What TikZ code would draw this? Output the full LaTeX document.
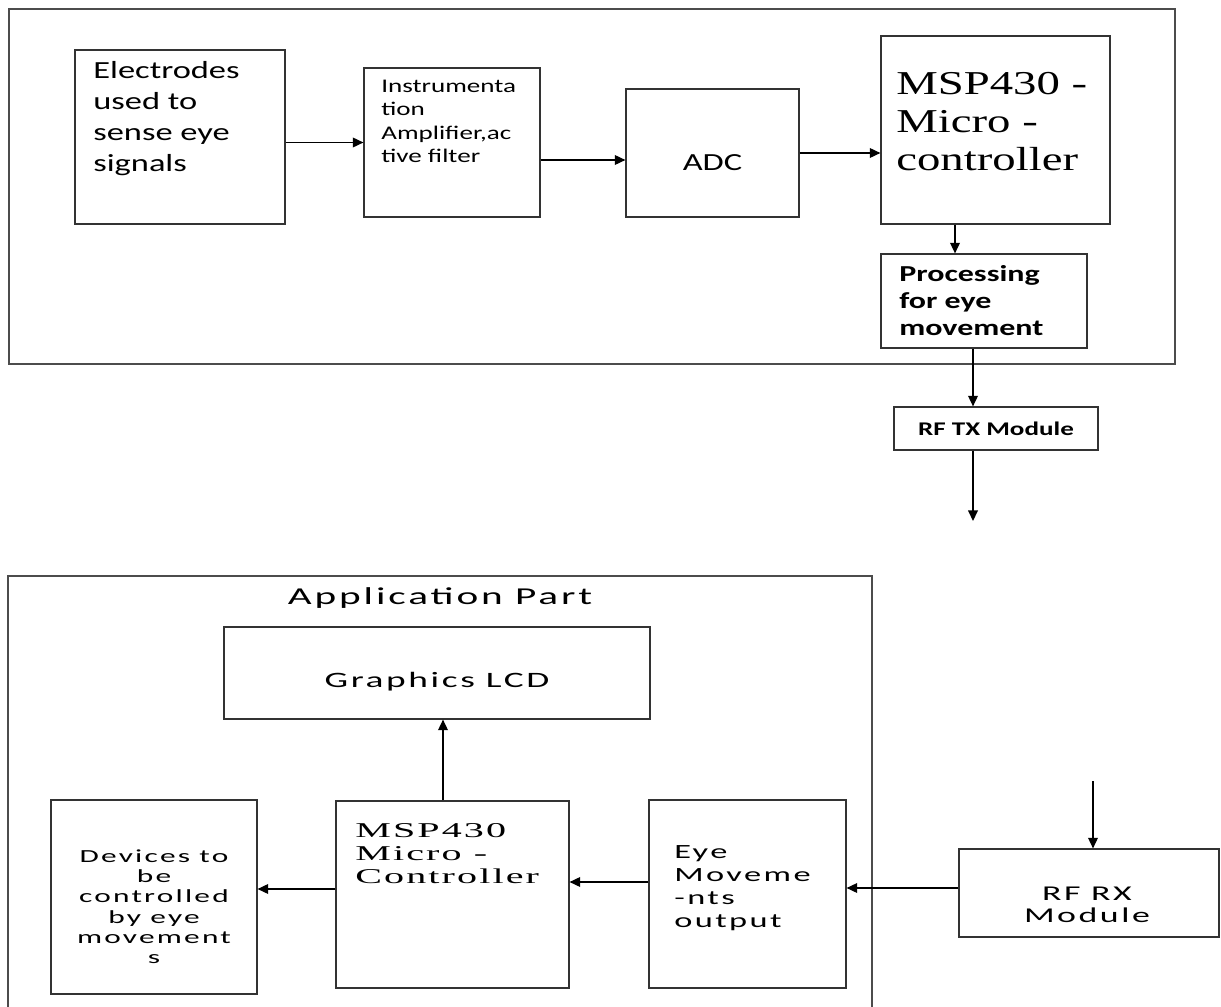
\documentclass[tikz,border=0pt]{standalone}
\usepackage{fontspec}
\usetikzlibrary{positioning,arrows.meta}

% fonts: the picture is stretched sideways, the lower half more so
\newfontfamily\topsans[FakeStretch=1.4]{Carlito}
\newfontfamily\topserif[FakeStretch=1.4]{Liberation Serif}
\newfontfamily\botsans[FakeStretch=1.7,LetterSpace=12]{Carlito}
\newfontfamily\botserif[FakeStretch=1.9,LetterSpace=10]{Liberation Serif}

\begin{document}
\begin{tikzpicture}[
    x=0.02cm, y=-0.02cm,
    blk/.style   ={rectangle, draw=black!80, line width=0.7pt, inner sep=0pt},
    frame/.style ={draw=black!70, line width=0.8pt},
    arr/.style   ={-{Triangle[length=6pt,width=5.5pt]}, line width=0.8pt, black},
    lbl/.style   ={anchor=north west, align=left, inner sep=0pt}
  ]
    % page size (pixel grid of the drawing)
    \useasboundingbox (0,0) rectangle (1221,1007);

    % --- Acquisition part (top) ---
    \draw[frame] (9,9) rectangle (1175,364);

    \node[blk, minimum width=4.2cm,  minimum height=3.48cm] (elec)  at (180,137)   {};
    \node[blk, minimum width=3.52cm, minimum height=2.98cm] (instr) at (452,142.5) {};
    \node[blk, minimum width=3.46cm, minimum height=2.56cm, text height=0.7cm, text depth=0pt,
          font=\topsans\fontsize{14}{17}\selectfont]        (adc)   at (712.5,153) {ADC};
    \node[blk, minimum width=4.58cm, minimum height=3.76cm] (mcu)   at (995.5,130) {};
    \node[blk, minimum width=4.12cm, minimum height=1.88cm] (proc)  at (984,301)   {};
    \node[blk, minimum width=4.08cm, minimum height=0.86cm,
          font=\topsans\bfseries\fontsize{11}{13}\selectfont] (rftx) at (996,428.5) {RF TX Module};
    \coordinate (txout) at (973,521);

    % texts sitting at the top left of their boxes
    \node[lbl, font=\topsans\fontsize{14}{17.6}\selectfont] (elec-txt) at (93,61)
      {Electrodes\\used to\\sense eye\\signals};
    \node[lbl, font=\topsans\fontsize{11}{13.2}\selectfont] (instr-txt) at (381,80)
      {Instrumenta\\tion\\Amplifier,ac\\tive filter};
    \node[lbl, font=\topserif\fontsize{19}{21.5}\selectfont] (mcu-txt) at (896,72)
      {MSP430 -\\Micro -\\controller};
    \node[lbl, font=\topsans\bfseries\fontsize{13}{15.3}\selectfont] (proc-txt) at (899,265)
      {Processing\\for eye\\movement};

    % arrows
    \draw[arr] (elec.east |- instr.west) -- (instr.west);
    \draw[arr] ([yshift=-0.35cm]instr.east) -- ([yshift=-0.35cm]instr.east -| adc.west);
    \draw[arr] (adc.east) -- (adc.east -| mcu.west);
    \draw[arr] ([xshift=-0.81cm]mcu.south) -- ([xshift=-0.81cm]mcu.south |- proc.north);
    \draw[arr] ([xshift=-0.22cm]proc.south) -- ([xshift=-0.22cm]proc.south |- rftx.north);
    \draw[arr] (rftx.south -| txout) -- (txout);

    % --- Application part (bottom) ---
    \draw[frame] (8,1007) |- (872,576) -- (872,1007);
    \node[font=\botsans\fontsize{13.8}{16}\selectfont, inner sep=0pt] (app) at (440,598) {Application Part};

    \node[blk, minimum width=8.52cm, minimum height=1.84cm, text height=0.58cm, text depth=0pt,
          font=\botsans\fontsize{12.5}{15}\selectfont]        (lcd)  at (437,673)    {Graphics LCD};
    \node[blk, minimum width=4.12cm, minimum height=3.88cm] (dev)  at (154,897)    {};
    \node[blk, minimum width=4.66cm, minimum height=3.74cm] (mcu2) at (452.5,894.5) {};
    \node[blk, minimum width=3.94cm, minimum height=3.76cm] (eye)  at (747.5,894)  {};
    \node[blk, minimum width=5.2cm,  minimum height=1.76cm] (rfrx) at (1089,893)   {};
    \coordinate (rxin) at (1093,781);

    \node[inner sep=0pt, anchor=north, align=center, font=\botsans\fontsize{10.5}{11.6}\selectfont]
      (dev-txt) at (154,849) {Devices to\\be\\controlled\\by eye\\movement\\s};
    \node[lbl, font=\botserif\fontsize{12}{13.2}\selectfont] (mcu2-txt) at (355,823)
      {MSP430\\Micro -\\Controller};
    \node[lbl, font=\botsans\fontsize{11.5}{13.2}\selectfont] (eye-txt) at (674,845)
      {Eye\\Moveme\\-nts\\output};
    \node[inner sep=0pt, align=center, font=\botsans\fontsize{12}{12.6}\selectfont]
      (rfrx-txt) at (1087,905) {RF RX\\Module};

    % arrows
    \draw[arr] ([xshift=-0.19cm]mcu2.north) -- ([xshift=-0.19cm]mcu2.north |- lcd.south);
    \draw[arr] ([yshift=0.11cm]mcu2.west) -- ([yshift=0.11cm]mcu2.west -| dev.east);
    \draw[arr] ([yshift=0.24cm]eye.west) -- ([yshift=0.24cm]eye.west -| mcu2.east);
    \draw[arr] ([yshift=0.1cm]rfrx.west) -- ([yshift=0.1cm]rfrx.west -| eye.east);
    \draw[arr] (rxin) -- (rxin |- rfrx.north);
\end{tikzpicture}
\end{document}
